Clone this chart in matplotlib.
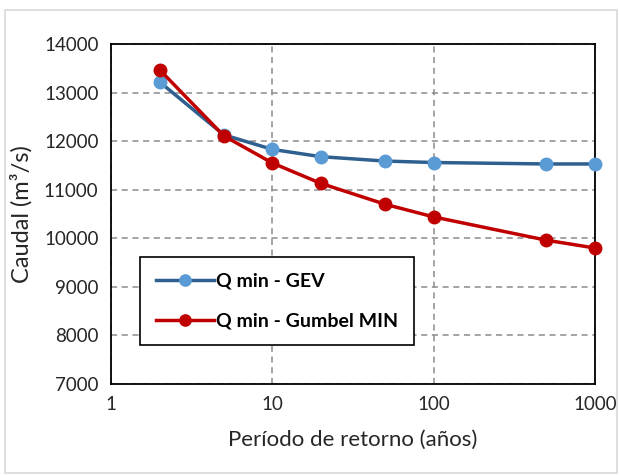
import matplotlib
matplotlib.use("Agg")
import matplotlib.pyplot as plt
from matplotlib.patches import Rectangle

plt.rcParams['font.family'] = ['Lato', 'DejaVu Sans']

# Return periods (years) and minimum flows (m3/s)
periodo = [2, 5, 10, 20, 50, 100, 500, 1000]
q_gev = [13220, 12130, 11830, 11680, 11590, 11560, 11530, 11530]
q_gumbel = [13470, 12110, 11550, 11130, 10700, 10440, 9960, 9800]

y_ticks = [7000, 8000, 9000, 10000, 11000, 12000, 13000, 14000]
x_ticks = [1, 10, 100, 1000]
x_labels = ['1', '10', '100', '1000']

fig = plt.figure(figsize=(6.2, 4.75), dpi=100)
ax = fig.add_axes([111 / 620, 1 - 384 / 475, 484 / 620, 340 / 475])

# light frame around the whole chart
fig.patches.append(Rectangle((5 / 620, 2 / 475), 612 / 620, 463 / 475,
                             transform=fig.transFigure, fill=False,
                             edgecolor='#d9d9d9', linewidth=1.2))

ax.plot(periodo, q_gev, color='#2e5f8f', linewidth=2.5, marker='o',
        markersize=9, markerfacecolor='#5b9bd5', markeredgecolor='#5b9bd5',
        label='Q min - GEV', zorder=3, clip_on=False)
ax.plot(periodo, q_gumbel, color='#c00000', linewidth=2.5, marker='o',
        markersize=9, markerfacecolor='#c00000', markeredgecolor='#c00000',
        label='Q min - Gumbel MIN', zorder=4, clip_on=False)

ax.set_xscale('log')
ax.set_xlim(1, 1000)
ax.set_ylim(7000, 14000)
ax.set_xticks(x_ticks)
ax.set_xticklabels(x_labels)
ax.xaxis.set_minor_locator(matplotlib.ticker.NullLocator())
ax.set_yticks(y_ticks)
ax.tick_params(axis='both', labelsize=13.5, length=0, pad=9, colors='#262626')
ax.grid(True, color='#8c8c8c', linestyle=(0, (4, 3)), linewidth=1.1)
for s in ax.spines.values():
    s.set_color('black')
    s.set_linewidth(1.3)

ax.set_xlabel('Período de retorno (años)', fontsize=16, color='#262626', labelpad=12)
ax.set_ylabel('Caudal (m³/s)', fontsize=17, color='#262626', labelpad=8)

leg = ax.legend(loc='upper left', bbox_to_anchor=((140 - 111) / 484, (384 - 257) / 340),
                prop={'weight': 'bold', 'size': 14}, frameon=True, fancybox=False,
                borderpad=0.8, labelspacing=1.2, handlelength=3.0, handletextpad=0.1,
                borderaxespad=0, markerscale=0.9)
leg.get_frame().set_edgecolor('black')
leg.get_frame().set_linewidth(1.2)
leg.get_frame().set_alpha(1)

fig.savefig('out.png', dpi=100)
